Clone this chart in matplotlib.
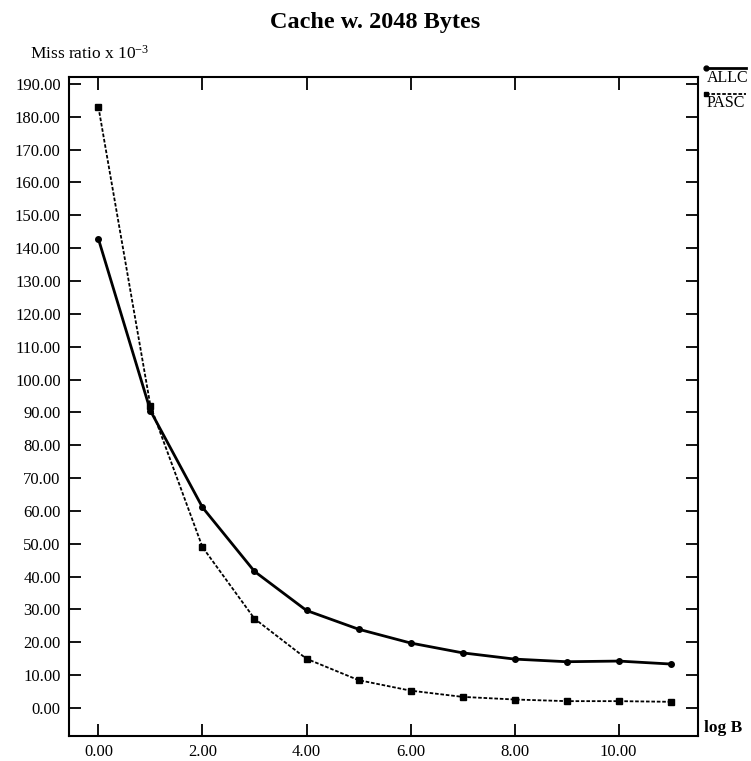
import matplotlib.pyplot as plt
from matplotlib.lines import Line2D

# ---------------------------
# Data
# ---------------------------
log_b = [0, 1, 2, 3, 4, 5, 6, 7, 8, 9, 10, 11]
allc = [142.8, 90.5, 61.1, 41.6, 29.7, 24.0, 19.8, 16.8, 14.9, 14.1, 14.3, 13.4]
pasc = [183.0, 92.0, 49.0, 27.2, 15.0, 8.5, 5.3, 3.4, 2.6, 2.1, 2.1, 1.9]

x_ticks = [0, 2, 4, 6, 8, 10]
y_ticks = list(range(0, 200, 10))

# ---------------------------
# Style
# ---------------------------
plt.rcParams["font.family"] = ["Liberation Serif", "DejaVu Serif"]
plt.rcParams["mathtext.fontset"] = "custom"
plt.rcParams["mathtext.rm"] = "Liberation Serif"
plt.rcParams["mathtext.it"] = "Liberation Serif:italic"

fig = plt.figure(figsize=(7.51, 7.61), dpi=100)
ax = fig.add_axes([0.0919, 0.0329, 0.8375, 0.8659])

ax.plot(log_b, allc, color="black", linewidth=2.0, linestyle="-",
        marker="o", markersize=4, label="ALLC")
ax.plot(log_b, pasc, color="black", linewidth=1.3, linestyle=(0, (2, 1)),
        marker="s", markersize=4, label="PASC")

ax.set_xlim(-0.565, 11.525)
ax.set_ylim(-8.5, 192.1)

ax.set_xticks(x_ticks)
ax.set_xticklabels([f"{v:.2f}" for v in x_ticks])
ax.set_yticks(y_ticks)
ax.set_yticklabels([f"{v:.2f}" for v in y_ticks])

ax.tick_params(axis="x", direction="in", length=9, width=1.3,
               top=True, bottom=True, labelsize=12, pad=6)
ax.tick_params(axis="y", direction="in", length=8.5, width=1.3,
               left=True, right=True, labelsize=12, pad=6)
for s in ax.spines.values():
    s.set_linewidth(1.5)

# ---------------------------
# Text
# ---------------------------
fig.text(0.5, 0.970, "Cache w. 2048 Bytes", ha="center", va="center",
         fontsize=17.5, fontweight="bold")
fig.text(0.040, 0.930, r"Miss ratio x 10$^{-3}$", ha="left", va="center",
         fontsize=12.5)
fig.text(0.938, 0.044, "log B", ha="left", va="center",
         fontsize=12.5, fontweight="bold")

# legend drawn by hand to the right of the frame
leg_items = [("ALLC", "-", "o", 2.0, 0.910), ("PASC", (0, (2, 1)), "s", 1.3, 0.877)]
for name, ls, mk, lw, y in leg_items:
    fig.add_artist(Line2D([0.940, 0.993], [y, y], transform=fig.transFigure,
                          color="black", linestyle=ls, linewidth=lw))
    fig.add_artist(Line2D([0.940], [y], transform=fig.transFigure,
                          color="black", marker=mk, markersize=3.5))
    fig.text(0.941, y - 0.002, name, ha="left", va="top", fontsize=11.5)

fig.savefig("out.png", dpi=100)
